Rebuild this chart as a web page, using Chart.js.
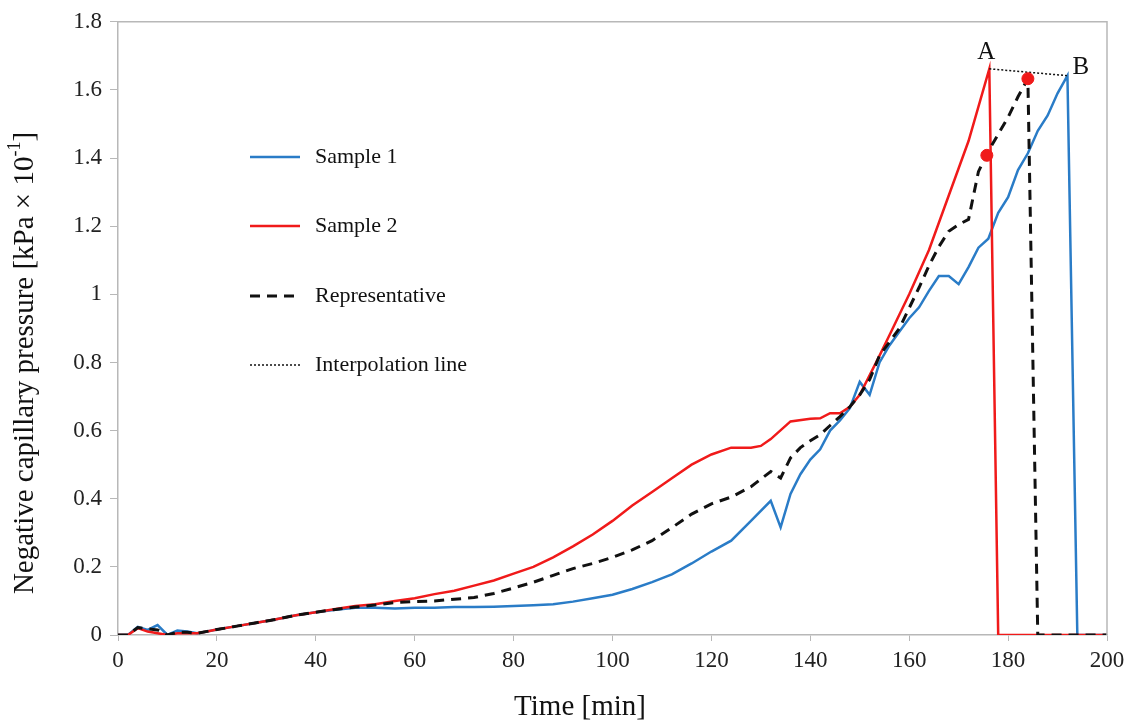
<!DOCTYPE html>
<html>
<head>
<meta charset="utf-8">
<script src="https://cdn.jsdelivr.net/npm/chart.js@4.4.1/dist/chart.umd.min.js"></script>
<style>
    body { margin: 0; background: #fff; }
    #holder { width: 1135px; height: 724px; }
</style>
</head>
<body>
<div id="holder"><canvas id="chart-holder" width="1135" height="724"></canvas></div>
<script>
// Sample 1 (blue)
const sample1Time = [0, 2, 4, 6, 8, 10, 12, 14, 16, 18, 20, 24, 28, 32, 36, 40, 44, 48, 52, 56, 60, 64, 68, 72, 76, 80, 84, 88, 92, 96, 100, 104, 108, 112, 116, 120, 124, 128, 132, 134, 136, 138, 140, 142, 144, 146, 148, 150, 152, 154, 156, 158, 160, 162, 164, 166, 168, 170, 172, 174, 176, 178, 180, 182, 184, 186, 188, 190, 192, 194, 196, 198, 200];
const sample1Value = [0, 0, 0.024, 0.015, 0.029, 0, 0.013, 0.01, 0.005, 0.01, 0.016, 0.026, 0.036, 0.046, 0.058, 0.067, 0.074, 0.08, 0.08, 0.078, 0.08, 0.08, 0.082, 0.082, 0.083, 0.085, 0.087, 0.09, 0.098, 0.108, 0.118, 0.135, 0.155, 0.178, 0.21, 0.245, 0.277, 0.335, 0.394, 0.316, 0.414, 0.472, 0.515, 0.545, 0.6, 0.63, 0.666, 0.743, 0.705, 0.8, 0.85, 0.89, 0.93, 0.962, 1.01, 1.054, 1.054, 1.03, 1.08, 1.137, 1.163, 1.239, 1.285, 1.365, 1.414, 1.48, 1.525, 1.59, 1.642, 0, 0, 0, 0];

// Sample 2 (red)
const sample2Time = [0, 2, 4, 6, 8, 10, 12, 14, 16, 18, 20, 24, 28, 32, 36, 40, 44, 48, 52, 56, 60, 64, 68, 72, 76, 80, 84, 88, 92, 96, 100, 104, 108, 112, 116, 120, 124, 128, 130, 132, 136, 140, 142, 144, 146, 148, 150, 154, 156, 160, 164, 168, 172, 176.2, 178, 180, 190, 200];
const sample2Value = [0, 0, 0.02, 0.01, 0.005, 0, 0.005, 0.005, 0.005, 0.01, 0.016, 0.026, 0.036, 0.046, 0.058, 0.067, 0.076, 0.085, 0.09, 0.1, 0.108, 0.12, 0.13, 0.145, 0.16, 0.18, 0.2, 0.228, 0.26, 0.295, 0.335, 0.38, 0.42, 0.46, 0.5, 0.53, 0.55, 0.55, 0.555, 0.575, 0.627, 0.635, 0.636, 0.651, 0.651, 0.67, 0.705, 0.82, 0.88, 1.0, 1.13, 1.29, 1.45, 1.662, 0, 0, 0, 0];

// Representative (black dashed)
const repTime = [0, 2, 4, 6, 8, 10, 12, 14, 16, 20, 24, 28, 32, 36, 40, 44, 48, 52, 56, 60, 64, 68, 72, 76, 80, 84, 88, 92, 96, 100, 104, 108, 112, 116, 120, 124, 128, 132, 134, 136, 138, 140, 142, 144, 146, 148, 150, 152, 154, 156, 158, 160, 162, 164, 166, 168, 170, 172, 174, 176, 178, 180, 182, 184, 186, 188, 190, 200];
const repValue = [0, 0, 0.022, 0.018, 0.015, 0, 0.008, 0.008, 0.005, 0.016, 0.026, 0.036, 0.046, 0.058, 0.067, 0.075, 0.082, 0.088, 0.095, 0.098, 0.1, 0.105, 0.11, 0.122, 0.138, 0.155, 0.175, 0.195, 0.21, 0.228, 0.25, 0.277, 0.315, 0.355, 0.385, 0.405, 0.435, 0.48, 0.461, 0.52, 0.55, 0.57, 0.588, 0.615, 0.641, 0.67, 0.705, 0.75, 0.82, 0.86, 0.9, 0.96, 1.02, 1.084, 1.14, 1.185, 1.205, 1.22, 1.36, 1.42, 1.47, 1.52, 1.58, 1.633, 0, 0, 0, 0];

// Interpolation line A -> B
const interpTime = [176.2, 191.9];
const interpValue = [1.662, 1.642];
const pointLabels = ['A', 'B'];

// red markers
const markerTime = [175.7, 184];
const markerValue = [1.408, 1.633];

const xTicks = [0, 200, 20];
const yTicks = [0, 1.8, 0.2];

const legendNames = ['Sample 1', 'Sample 2', 'Representative', 'Interpolation line'];

function pts(xs, ys) {
    return xs.map((x, i) => ({ x: x, y: ys[i] }));
}

const blue = '#2a7cc7';
const red = '#f01a1a';
const axisGray = '#b8b8b8';
const serif = '"Liberation Serif", "Times New Roman", serif';

// legend, titles and A/B letters
const extras = {
    id: 'extras',
    afterDraw: function (chart) {
        const ctx = chart.ctx;
        const ca = chart.chartArea;
        ctx.save();
        // box on top / right
        ctx.strokeStyle = axisGray;
        ctx.lineWidth = 1.5;
        ctx.beginPath();
        ctx.moveTo(ca.left, ca.top);
        ctx.lineTo(ca.right, ca.top);
        ctx.lineTo(ca.right, ca.bottom);
        ctx.stroke();

        // legend
        var ly = [157, 226, 296, 365];
        ctx.font = '22px ' + serif;
        ctx.textBaseline = 'middle';
        ctx.fillStyle = '#111';
        for (var i = 0; i < legendNames.length; i++) {
            var ds = chart.data.datasets[i];
            ctx.strokeStyle = ds.borderColor;
            ctx.lineWidth = ds.borderWidth;
            ctx.setLineDash(ds.borderDash || []);
            ctx.beginPath();
            ctx.moveTo(250, ly[i]);
            ctx.lineTo(300, ly[i]);
            ctx.stroke();
            ctx.setLineDash([]);
            ctx.fillText(legendNames[i], 315, ly[i]);
        }

        // A / B labels
        var xs = chart.scales.x, ys = chart.scales.y;
        ctx.font = '25px ' + serif;
        ctx.textAlign = 'center';
        ctx.textBaseline = 'bottom';
        ctx.fillText(pointLabels[0], xs.getPixelForValue(interpTime[0]) - 3, ys.getPixelForValue(interpValue[0]) - 4);
        ctx.fillText(pointLabels[1], xs.getPixelForValue(interpTime[1]) + 14, ys.getPixelForValue(interpValue[1]) + 4);

        // x title
        ctx.font = '29px ' + serif;
        ctx.textBaseline = 'middle';
        ctx.fillText('Time [min]', 580, 707);

        // y title with superscript
        ctx.translate(25, 363);
        ctx.rotate(-Math.PI / 2);
        var main = 'Negative capillary pressure [kPa \u00d7 10';
        ctx.font = '29px ' + serif;
        var w1 = ctx.measureText(main).width;
        ctx.font = '18px ' + serif;
        var w2 = ctx.measureText('-1').width;
        ctx.font = '29px ' + serif;
        var w3 = ctx.measureText(']').width;
        var start = -(w1 + w2 + w3) / 2;
        ctx.textAlign = 'left';
        ctx.fillText(main, start, 0);
        ctx.font = '18px ' + serif;
        ctx.fillText('-1', start + w1, -10);
        ctx.font = '29px ' + serif;
        ctx.fillText(']', start + w1 + w2, 0);
        ctx.restore();
    }
};

var ctx = document.getElementById('chart-holder').getContext('2d');
var chart = new Chart(ctx, {
    type: 'line',
    data: {
        datasets: [
            {
                label: legendNames[0],
                data: pts(sample1Time, sample1Value),
                borderColor: blue,
                borderWidth: 2.5,
                pointRadius: 0,
                order: 3
            },
            {
                label: legendNames[1],
                data: pts(sample2Time, sample2Value),
                borderColor: red,
                borderWidth: 2.5,
                pointRadius: 0,
                order: 2
            },
            {
                label: legendNames[2],
                data: pts(repTime, repValue),
                borderColor: '#111',
                borderWidth: 3,
                borderDash: [10, 7],
                pointRadius: 0,
                order: 1
            },
            {
                label: legendNames[3],
                data: pts(interpTime, interpValue),
                borderColor: '#111',
                borderWidth: 1.5,
                borderDash: [2, 2],
                pointRadius: 0,
                order: 1
            },
            {
                label: 'markers',
                data: pts(markerTime, markerValue),
                showLine: false,
                pointRadius: 6,
                pointBackgroundColor: red,
                pointBorderColor: red,
                order: 0
            }
        ]
    },
    options: {
        responsive: false,
        animation: false,
        layout: { padding: { left: 0, top: 18, right: 28, bottom: 0 } },
        plugins: {
            legend: { display: false },
            tooltip: { enabled: false }
        },
        elements: { line: { tension: 0 } },
        scales: {
            x: {
                type: 'linear',
                min: xTicks[0],
                max: xTicks[1],
                ticks: {
                    stepSize: xTicks[2],
                    color: '#222',
                    padding: 6,
                    font: { family: serif, size: 23 }
                },
                grid: {
                    drawOnChartArea: false,
                    drawTicks: true,
                    tickLength: 6,
                    color: axisGray
                },
                border: { color: axisGray, width: 1.5 },
                afterFit: function (s) { s.height = 89; }
            },
            y: {
                min: yTicks[0],
                max: yTicks[1],
                ticks: {
                    stepSize: yTicks[2],
                    color: '#222',
                    padding: 8,
                    font: { family: serif, size: 23 },
                    callback: function (v) { return String(Math.round(v * 10) / 10); }
                },
                grid: {
                    drawOnChartArea: false,
                    drawTicks: true,
                    tickLength: 8,
                    color: axisGray
                },
                border: { color: axisGray, width: 1.5 },
                afterFit: function (s) { s.width = 118; }
            }
        }
    },
    plugins: [extras]
});
</script>
</body>
</html>
